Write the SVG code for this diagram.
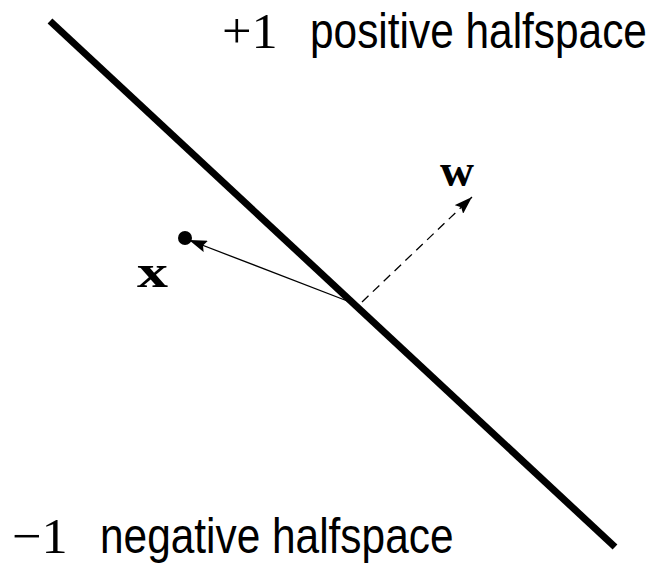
<svg xmlns="http://www.w3.org/2000/svg" width="656" height="565" viewBox="0 0 656 565">
<style>
.sans{font-family:"Liberation Sans","DejaVu Sans",sans-serif;font-size:42.4px;fill:#000}
.math{font-family:"Liberation Serif","DejaVu Serif",serif;font-size:46px;fill:#000}
.bold{font-family:"Liberation Serif","DejaVu Serif",serif;font-size:46px;font-weight:bold;fill:#000}
</style>
<defs>
<marker id="ah2" viewBox="0 0 18 12" refX="18" refY="6" markerWidth="18" markerHeight="12" markerUnits="userSpaceOnUse" orient="auto">
<path d="M0,0 L18,6 L0,12 L3,6 Z" fill="#000"/>
</marker>
</defs>
<rect width="656" height="565" fill="#fff"/>
<g id="hyperplane">
<line x1="50" y1="21" x2="615" y2="547" stroke="#000" stroke-width="7"/>
</g>
<g id="point-x">
<circle cx="185" cy="238" r="7" fill="#000"/>
<text class="bold" x="137" y="287" textLength="31" lengthAdjust="spacingAndGlyphs">x</text>
</g>
<g id="label-w">
<text class="bold" x="440" y="186" textLength="34" lengthAdjust="spacingAndGlyphs">w</text>
</g>
<g id="connectors">
<line x1="350" y1="302" x2="189" y2="240" stroke="#000" stroke-width="1.3" marker-end="url(#ah2)"/>
<line x1="362" y1="302" x2="472" y2="197" stroke="#000" stroke-width="1.3" stroke-dasharray="9,6" marker-end="url(#ah2)"/>
</g>
<g id="label-positive">
<text class="math" transform="translate(222,48) scale(1.14,1.1)" x="0" y="0">+1</text>
<text class="sans" transform="translate(310,48) scale(1,1.18)" x="0" y="0">positive halfspace</text>
</g>
<g id="label-negative">
<text class="math" transform="translate(12,553) scale(1.14,1.1)" x="0" y="0">−1</text>
<text class="sans" transform="translate(100,553) scale(1,1.18)" x="0" y="0">negative halfspace</text>
</g>
</svg>
